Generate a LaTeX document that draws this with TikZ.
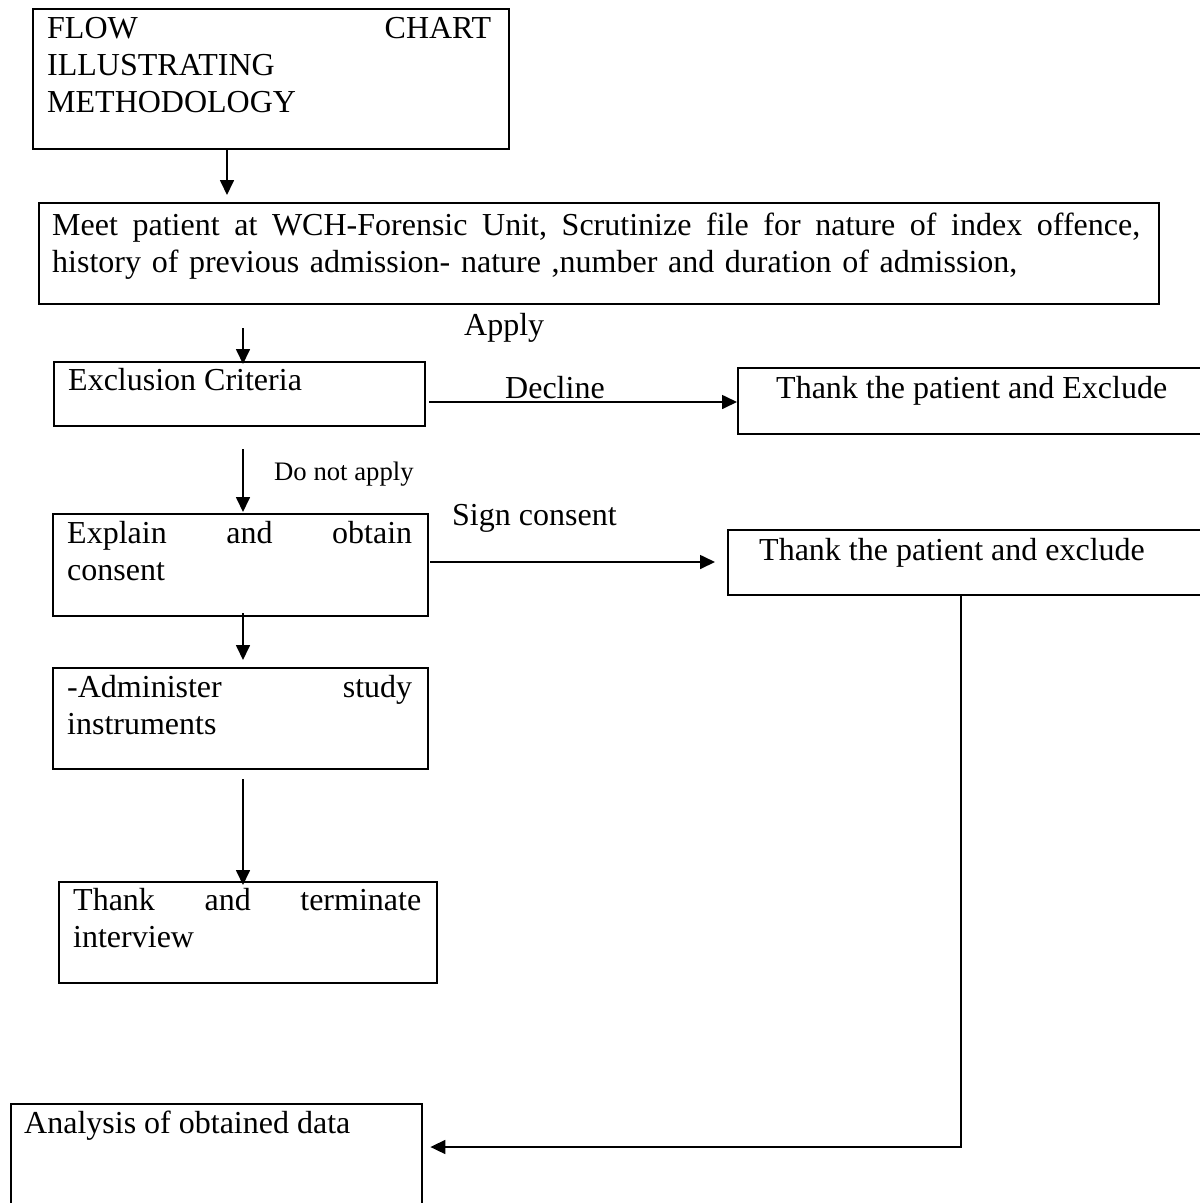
\documentclass[tikz,border=0pt]{standalone}
\usepackage{fontspec}
\setmainfont{Liberation Serif}
\usetikzlibrary{arrows.meta,calc}
\begin{document}
\begin{tikzpicture}[x=1pt,y=-1pt,
  box/.style={draw, line width=2.4pt, rectangle, inner sep=0pt, anchor=north west},
  txt/.style={inner sep=0pt, anchor=north west, align=left, font=\fontsize{32}{37}\selectfont},
  lbl/.style={inner sep=0pt, anchor=base west, font=\fontsize{32}{37}\selectfont},
  small/.style={inner sep=0pt, anchor=base west, font=\fontsize{26.7}{31}\selectfont},
  arr/.style={line width=1.7pt, -{Triangle[length=15pt,width=14pt]}},
]
\useasboundingbox (0,0) rectangle (1200,1203);
\clip (0,0) rectangle (1200,1203);
\fill[white] (0,0) rectangle (1200,1203);

% boxes
\node[box, minimum width=476pt, minimum height=140pt] (title) at (32,8) {};
\node[box, minimum width=1120pt, minimum height=101pt] (meet) at (38,202) {};
\node[box, minimum width=371pt, minimum height=64pt] (excl) at (53,361) {};
\node[box, minimum width=500pt, minimum height=66pt] (thank1) at (737,367) {};
\node[box, minimum width=375pt, minimum height=102pt] (explain) at (52,513) {};
\node[box, minimum width=500pt, minimum height=65pt] (thank2) at (727,529) {};
\node[box, minimum width=375pt, minimum height=101pt] (admin) at (52,667) {};
\node[box, minimum width=378pt, minimum height=101pt] (term) at (58,881) {};
\node[box, minimum width=411pt, minimum height=150pt] (analysis) at (10,1103) {};

% texts
\node[txt, text width=444pt] (titletxt) at (47,12.1) {\strut FLOW\hfill CHART\\ILLUSTRATING\\METHODOLOGY};
\node[txt, text width=1088pt] (meettxt) at (52,209.1) {\strut Meet\hfill patient\hfill at\hfill WCH-Forensic\hfill Unit,\hfill Scrutinize\hfill file\hfill for\hfill nature\hfill of\hfill index\hfill offence,\\history of previous admission- nature ,number and duration of admission,};
\node[lbl] (excltxt) at (68,390) {Exclusion Criteria};
\node[lbl] (thank1txt) at (776,398) {Thank the patient and Exclude};
\node[txt, text width=345pt] (explaintxt) at (67,517.1) {\strut Explain\hfill and\hfill obtain\\consent};
\node[lbl] (thank2txt) at (759,560) {Thank the patient and exclude};
\node[txt, text width=345pt] (admintxt) at (67,671.1) {\strut -Administer\hfill study\\instruments};
\node[txt, text width=348pt] (termtxt) at (73,884.1) {\strut Thank\hfill and\hfill terminate\\interview};
\node[lbl] (analysistxt) at (24,1133) {Analysis of obtained data};

% connector labels
\node[lbl] (apply) at (464,335) {Apply};
\node[lbl] (decline) at (505,398) {Decline};
\node[lbl] (sign) at (452,525) {Sign consent};
\node[small] (donot) at (274,480) {Do not apply};

% reference coordinates
\coordinate (cA) at (227,0);
\coordinate (cB) at (243,0);
\coordinate (cR) at (961,0);
\coordinate (rD) at (0,402);
\coordinate (rS) at (0,562);
\coordinate (rL) at (0,1147);

% connectors
\draw[arr, shorten >=7pt] (title.south -| cA) -- (meet.north -| cA);
\draw[arr, shorten <=23pt, shorten >=-3pt] (meet.south -| cB) -- (excl.north -| cB);
\draw[arr, shorten <=3pt] (excl.east |- rD) -- (thank1.west |- rD);
\draw[arr, shorten <=22pt, shorten >=1pt] (excl.south -| cB) -- (explain.north -| cB);
\draw[arr, shorten <=1pt, shorten >=12pt] (explain.east |- rS) -- (thank2.west |- rS);
\draw[arr, shorten <=-4pt, shorten >=7pt] (explain.south -| cB) -- (admin.north -| cB);
\draw[arr, shorten <=9pt, shorten >=-4pt] (admin.south -| cB) -- (term.north -| cB);
\draw[arr, shorten >=7pt] (thank2.south -| cR) |- (analysis.east |- rL);
\end{tikzpicture}
\end{document}
